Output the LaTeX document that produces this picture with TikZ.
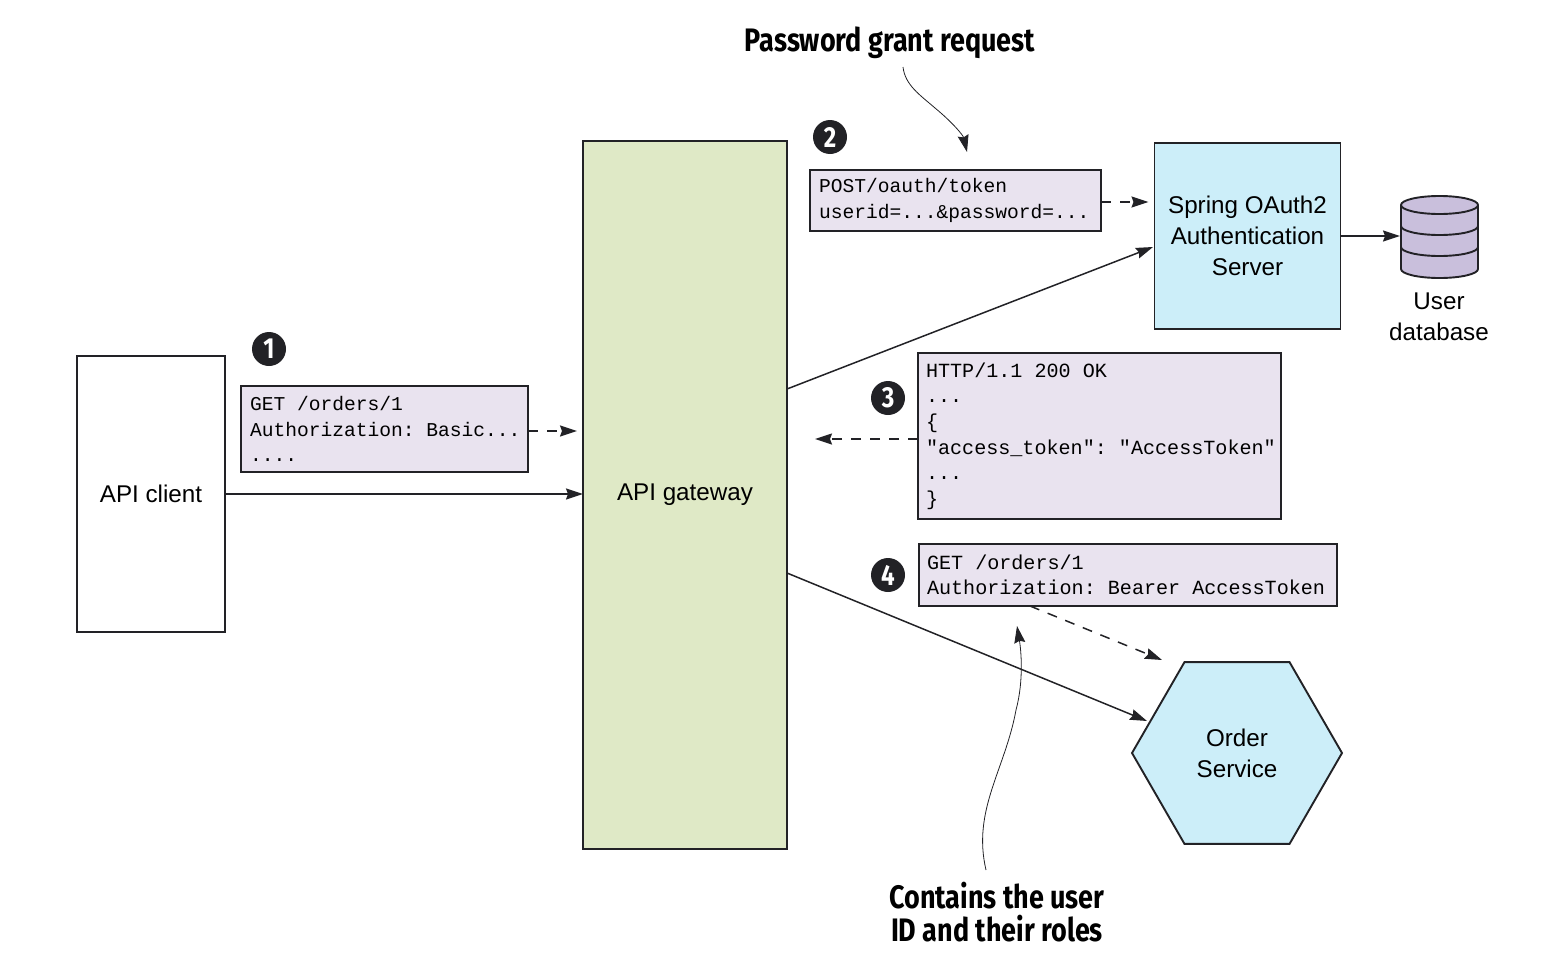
\documentclass[tikz,border=0pt]{standalone}
\usepackage{fontspec}
\setmainfont{Liberation Sans}
\setmonofont{Liberation Mono}
\newfontfamily\calloutfont[FakeStretch=0.83]{Fira Sans}
\usetikzlibrary{arrows.meta,shapes.geometric}

\begin{document}
\begin{tikzpicture}[x=1pt,y=-1pt,>={Stealth[length=17pt,width=11pt,inset=2pt]}]
        \definecolor{gatewaygreen}{HTML}{DFE9C6}
        \definecolor{serviceblue}{HTML}{CCEEF9}
        \definecolor{dbviolet}{HTML}{C9BFDC}
        \definecolor{msgviolet}{HTML}{E9E3EF}
        \definecolor{inkgray}{HTML}{222226}
        \tikzstyle{every node}=[font=\fontsize{24.2}{31}\selectfont,align=center,line width=1.9pt]
        \tikzstyle{service}=[draw=inkgray,inner sep=0pt,outer sep=0pt]
        \tikzstyle{msgbox}=[service,fill=msgviolet,inner xsep=8pt,align=flush left,font=\ttfamily\fontsize{20.1}{25.6}\selectfont]
        \tikzstyle{stepmark}=[circle,fill=inkgray,text=white,inner sep=0pt,minimum size=34pt,font=\calloutfont\bfseries\fontsize{29}{29}\selectfont]
        \tikzstyle{callout}=[font=\calloutfont\bfseries\fontsize{32.5}{33}\selectfont]
        \tikzstyle{link}=[draw=inkgray,line width=1.5pt,->]
        \tikzstyle{note}=[draw=inkgray,line width=0.8pt,->]
        \tikzstyle{dbline}=[draw=inkgray,line width=1.9pt]
        \useasboundingbox (0,0) rectangle (1554,974);

        % services
        \node[service,minimum width=148pt,minimum height=276pt] (client) at (151,494) {API client};
        \node[service,fill=gatewaygreen,minimum width=204pt,minimum height=708pt] (gateway) at (685,495) {API gateway};
        \node[service,fill=serviceblue,minimum width=186pt,minimum height=186pt] (auth) at (1247.5,236) {Spring OAuth2\\Authentication\\Server};
        \node[service,fill=serviceblue,regular polygon,regular polygon sides=6,minimum size=210pt] (order) at (1237,753) {Order\\Service};

        % user database
        \path[dbline,fill=dbviolet] (1401,205) -- (1401,269) arc[start angle=180,end angle=360,x radius=38.5pt,y radius=9pt] -- (1478,205) arc[start angle=0,end angle=180,x radius=38.5pt,y radius=9pt] -- cycle;
        \draw[dbline] (1401,205) arc[start angle=180,end angle=360,x radius=38.5pt,y radius=9pt];
        \draw[dbline] (1401,226) arc[start angle=180,end angle=360,x radius=38.5pt,y radius=9pt];
        \draw[dbline] (1401,247) arc[start angle=180,end angle=360,x radius=38.5pt,y radius=9pt];
        \coordinate (userdb) at (1400,236);
        \node (dblabel) at (1439,317) {User\\database};

        % messages
        \node[msgbox,font=\ttfamily\fontsize{19.6}{25.6}\selectfont,inner xsep=9pt,text width=269pt,minimum height=86pt] (msgone) at (384.5,429) {GET /orders/1\\Authorization:~Basic...\\....};
        \node[msgbox,font=\ttfamily\fontsize{19.6}{25.6}\selectfont,inner xsep=9pt,text width=273pt,minimum height=61pt] (msgtwo) at (955.5,200.5) {POST/oauth/token\\userid=...\&password=...};
        \node[msgbox,text width=347pt,minimum height=166pt] (msgthree) at (1099.5,436) {HTTP/1.1 200 OK\\...\\\{\\"access\_token":~"AccessToken"\\...\\\}};
        \node[msgbox,text width=402pt,minimum height=62pt] (msgfour) at (1128,575) {GET /orders/1\\Authorization: Bearer AccessToken};

        % steps
        \node[stepmark] (stepone) at (269,349) {1};
        \node[stepmark] (steptwo) at (830,137) {2};
        \node[stepmark] (stepthree) at (888,398) {3};
        \node[stepmark] (stepfour) at (888,575) {4};

        % callouts
        \node[callout] (grantnote) at (890,43) {Password grant request};
        \node[callout] (rolesnote) at (997,912) {Contains the user\\ID and their roles};

        % connectors
        \coordinate (gwauth) at (787,389);
        \coordinate (authin) at (1153,247);
        \coordinate (gworder) at (787,573);
        \coordinate (orderin) at (1147,721);
        \coordinate (fourout) at (1030,606);
        \coordinate (fourin) at (1162,660);
        \coordinate (grantout) at (903,67);
        \coordinate (grantin) at (967,152);
        \coordinate (rolesout) at (986,870);
        \coordinate (rolesin) at (1017,626);

        \draw[link] (client.east |- 0,494) -- (gateway.west |- 0,494);
        \draw[link] (gwauth) -- (authin);
        \draw[link] (gworder) -- (orderin);
        \draw[link] (auth.east) -- (userdb);
        \draw[link,dash pattern=on 10pt off 9pt,shorten >=6pt] (msgone.east |- 0,431) -- (gateway.west |- 0,431);
        \draw[link,dash pattern=on 10pt off 9pt,shorten >=6pt] (msgtwo.east |- 0,202) -- (auth.west |- 0,202);
        \draw[link,dash pattern=on 10pt off 9pt,shorten >=28pt] (msgthree.west |- 0,439) -- (gateway.east |- 0,439);
        \draw[link,dash pattern=on 10pt off 9pt] (fourout) -- (fourin);
        \draw[note] (grantout) .. controls (905,85) and (920,95) .. (935,108) .. controls (952,122) and (963,135) .. (grantin);
        \draw[note] (rolesout) .. controls (972,810) and (1005,770) .. (1016,710) .. controls (1024,680) and (1021,650) .. (rolesin);
    \end{tikzpicture}
\end{document}
